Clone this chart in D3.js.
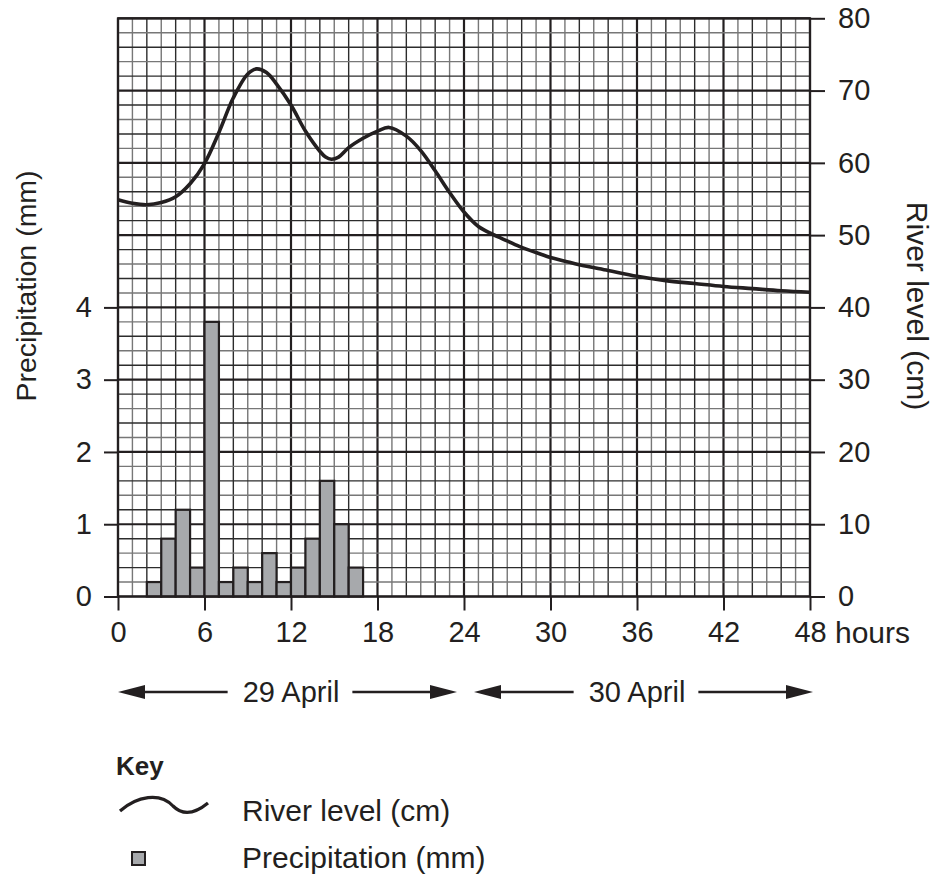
<!DOCTYPE html>
<html>
<head>
<meta charset="utf-8">
<script src="https://cdn.jsdelivr.net/npm/d3@7"></script>
<style>
  html, body { margin: 0; padding: 0; background: #fff; }
  svg { display: block; }
  text { font-family: "Liberation Sans", Arial, Helvetica, sans-serif; fill: #231f20; }
</style>
</head>
<body>
<svg id="chart" width="936" height="876"></svg>
<script>
// ---- data ----
const hourTicks = [0, 6, 12, 18, 24, 30, 36, 42, 48];
const riverTicks = [0, 10, 20, 30, 40, 50, 60, 70, 80];
const precipTicks = [0, 1, 2, 3, 4];

const precipHours = [2, 3, 4, 5, 6, 7, 8, 9, 10, 11, 12, 13, 14, 15, 16];
const precipitation = [0.2, 0.8, 1.2, 0.4, 3.8, 0.2, 0.4, 0.2, 0.6, 0.2, 0.4, 0.8, 1.6, 1.0, 0.4];

const riverHours = [0, 1, 2, 3, 4, 5, 6, 7, 8, 9, 9.6, 10.3, 11, 12, 13, 14, 14.4, 14.8, 15.3, 16, 17, 18, 18.8, 20, 21, 22, 23, 24, 25, 26, 27, 28, 29, 30, 31, 32, 34, 36, 38, 40, 42, 44, 46, 48];
const riverLevel = [54.9, 54.4, 54.2, 54.5, 55.3, 57.1, 59.9, 64.2, 69.0, 72.3, 73.0, 72.5, 70.9, 68.0, 64.4, 61.6, 60.8, 60.5, 60.8, 62.1, 63.4, 64.4, 64.9, 63.7, 61.7, 58.9, 55.9, 53.2, 51.2, 50.1, 49.2, 48.3, 47.6, 46.9, 46.4, 45.9, 45.1, 44.3, 43.7, 43.3, 42.9, 42.6, 42.3, 42.1];

const dayLabels = ["29 April", "30 April"];
const dayCentres = [12, 36];

// ---- scales ----
const ink = "#231f20";
const svg = d3.select("#chart");
const x = d3.scaleLinear().domain([0, 48]).range([118, 810]);
const yR = d3.scaleLinear().domain([0, 80]).range([596.5, 18.3]);
const yP = d3.scaleLinear().domain([0, 8]).range([596.5, 18.3]);

// ---- grid ----
const grid = svg.append("g");
d3.range(0, 49).forEach((h, i) => {
  const major = h % 6 === 0;
  grid.append("line")
    .attr("x1", x(h)).attr("x2", x(h))
    .attr("y1", yR(80)).attr("y2", yR(0))
    .attr("stroke", major ? ink : (i % 2 ? "#777" : "#2c2c2c"))
    .attr("stroke-width", major ? 2.2 : 1.4);
});
d3.range(0, 81, 2).forEach((v, i) => {
  const major = v % 10 === 0;
  grid.append("line")
    .attr("x1", x(0)).attr("x2", x(48))
    .attr("y1", yR(v)).attr("y2", yR(v))
    .attr("stroke", major ? ink : (i % 2 ? "#777" : "#2c2c2c"))
    .attr("stroke-width", major ? 2.2 : 1.4);
});

// ---- bars ----
svg.append("g").selectAll("rect")
  .data(precipHours.map((h, i) => ({ h, v: precipitation[i] })))
  .join("rect")
  .attr("x", d => x(d.h))
  .attr("width", d => x(d.h + 1) - x(d.h))
  .attr("y", d => yP(d.v))
  .attr("height", d => yP(0) - yP(d.v))
  .attr("fill", "#a7a9ac")
  .attr("stroke", ink)
  .attr("stroke-width", 2.2);

// ---- river level line ----
const line = d3.line()
  .x(d => x(d[0]))
  .y(d => yR(d[1]))
  .curve(d3.curveCatmullRom.alpha(0.5));
svg.append("path")
  .datum(riverHours.map((h, i) => [h, riverLevel[i]]))
  .attr("d", line)
  .attr("fill", "none")
  .attr("stroke", ink)
  .attr("stroke-width", 3.6)
  .attr("stroke-linejoin", "round");

// ---- axes ----
function styleAxis(g) {
  g.select(".domain").remove();
  g.selectAll(".tick line").attr("stroke", ink).attr("stroke-width", 2);
  g.selectAll(".tick text").attr("fill", ink).style("font-size", "29px")
    .style("font-family", "'Liberation Sans', Arial, sans-serif");
}
svg.append("g")
  .attr("transform", `translate(${x(0)},0)`)
  .call(d3.axisLeft(yP).tickValues(precipTicks).tickSize(14).tickPadding(12).tickFormat(d3.format("d")))
  .call(styleAxis);
svg.append("g")
  .attr("transform", `translate(${x(48)},0)`)
  .call(d3.axisRight(yR).tickValues(riverTicks).tickSize(15).tickPadding(13).tickFormat(d3.format("d")))
  .call(styleAxis);
svg.append("g")
  .attr("transform", `translate(0,${yR(0)})`)
  .call(d3.axisBottom(x).tickValues(hourTicks).tickSize(14).tickPadding(11).tickFormat(d3.format("d")))
  .call(styleAxis);

// frame
svg.append("rect")
  .attr("x", x(0)).attr("y", yR(80))
  .attr("width", x(48) - x(0)).attr("height", yR(0) - yR(80))
  .attr("fill", "none").attr("stroke", ink).attr("stroke-width", 2.2);

svg.append("text")
  .attr("x", x(48) + 25).attr("y", yR(0) + 46)
  .style("font-size", "30px")
  .text("hours");

// axis titles
svg.append("text")
  .attr("transform", `translate(26,${286}) rotate(-90)`)
  .attr("text-anchor", "middle").attr("dominant-baseline", "central")
  .style("font-size", "28.5px")
  .text("Precipitation (mm)");
svg.append("text")
  .attr("transform", `translate(917,${306}) rotate(90)`)
  .attr("text-anchor", "middle").attr("dominant-baseline", "central")
  .style("font-size", "30px")
  .text("River level (cm)");

// ---- day arrows ----
const arrowY = 692;
const tips = [[x(0), x(24) - 7], [x(24) + 10, x(48) + 3]];
function arrowHead(g, tipX, dir) {
  g.append("path")
    .attr("d", `M${tipX},${arrowY} L${tipX - dir * 27},${arrowY - 7} L${tipX - dir * 27},${arrowY + 7} Z`)
    .attr("fill", ink);
}
const arrows = svg.append("g");
dayLabels.forEach((lab, i) => {
  const cx = x(dayCentres[i]);
  const t = arrows.append("text")
    .attr("x", cx).attr("y", arrowY + 10)
    .attr("text-anchor", "middle")
    .style("font-size", "29px")
    .text(lab);
  const w = t.node().getComputedTextLength();
  const [lt, rt] = tips[i];
  arrows.append("line")
    .attr("x1", lt + 10).attr("x2", cx - w / 2 - 15)
    .attr("y1", arrowY).attr("y2", arrowY)
    .attr("stroke", ink).attr("stroke-width", 2.6);
  arrows.append("line")
    .attr("x1", cx + w / 2 + 13).attr("x2", rt - 10)
    .attr("y1", arrowY).attr("y2", arrowY)
    .attr("stroke", ink).attr("stroke-width", 2.6);
  arrowHead(arrows, lt, -1);
  arrowHead(arrows, rt, 1);
});

// ---- key ----
const key = svg.append("g");
key.append("text")
  .attr("x", 116).attr("y", 775)
  .style("font-size", "26px").style("font-weight", "bold")
  .text("Key");
key.append("path")
  .attr("d", "M120,811 C137,796 160,792 173,806 C184,817 197,812 208,803")
  .attr("fill", "none").attr("stroke", ink).attr("stroke-width", 3.2);
key.append("text")
  .attr("x", 242).attr("y", 821)
  .style("font-size", "30px")
  .text("River level (cm)");
key.append("rect")
  .attr("x", 132).attr("y", 852).attr("width", 13).attr("height", 13)
  .attr("fill", "#a7a9ac").attr("stroke", ink).attr("stroke-width", 2);
key.append("text")
  .attr("x", 242).attr("y", 868)
  .style("font-size", "30px")
  .text("Precipitation (mm)");
</script>
</body>
</html>
